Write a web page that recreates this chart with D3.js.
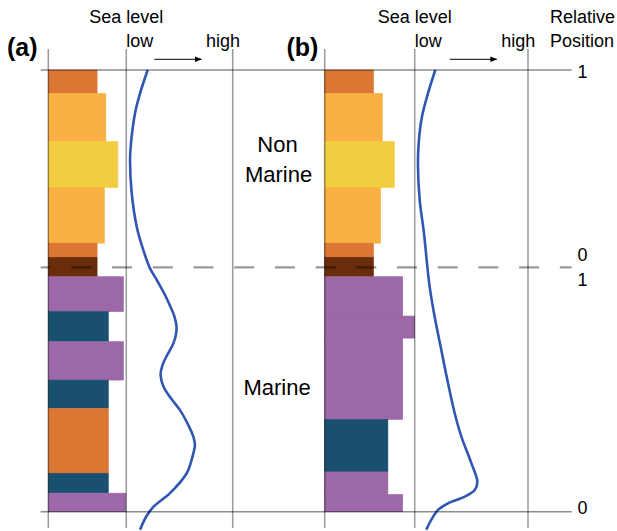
<!DOCTYPE html>
<html>
<head>
<meta charset="utf-8">
<script src="https://cdn.jsdelivr.net/npm/d3@7"></script>
<style>
  body { margin: 0; background: #fff; }
  text { font-family: "Liberation Sans", Arial, sans-serif; fill: #000; }
</style>
</head>
<body>
<div id="chart"></div>
<script>
const width = 617, height = 531;

// depth through the section, 0 = top, 100 = base ; boundary non marine / marine
const boundary = 44.7;

// layers: [top depth, bottom depth, grain size, facies]
const nonMarine = [
  [0, 5.3, 6.1, 'orange'],
  [5.3, 16.2, 7.2, 'light'],
  [16.2, 26.6, 8.7, 'yellow'],
  [26.6, 39.2, 7.0, 'light'],
  [39.2, 42.4, 6.1, 'orange'],
  [42.4, 46.8, 6.1, 'brown']
];
const marineA = [
  [46.8, 54.7, 9.4, 'purple'],
  [54.7, 61.5, 7.5, 'teal'],
  [61.5, 70.2, 9.4, 'purple'],
  [70.2, 76.6, 7.5, 'teal'],
  [76.6, 91.3, 7.5, 'orange'],
  [91.3, 95.8, 7.5, 'teal'],
  [95.8, 100, 9.7, 'purple']
];
const marineB = [
  [46.8, 55.7, 9.75, 'purple'],
  [55.7, 60.7, 11.25, 'purple'],
  [60.7, 79.1, 9.75, 'purple'],
  [79.1, 91.0, 7.9, 'teal'],
  [91.0, 96.1, 7.9, 'purple'],
  [96.1, 100, 9.75, 'purple']
];

// sea level curves: [depth, level 0 = low .. 1 = high]
const seaLevelA = [
  [0, 0.201], [5.3, 0.129], [9.8, 0.082], [16.6, 0.044], [20.4, 0.035],
  [27.9, 0.051], [35.5, 0.098], [40.8, 0.160], [44.9, 0.223], [47.5, 0.286],
  [51.0, 0.365], [53.6, 0.415], [55.8, 0.452], [58.1, 0.472], [60.0, 0.466],
  [61.9, 0.442], [64.5, 0.385], [66.8, 0.340], [69.0, 0.322], [71.7, 0.350],
  [74.5, 0.425], [77.0, 0.505], [80.0, 0.575], [83.0, 0.630], [84.9, 0.645],
  [86.8, 0.630], [89.0, 0.605], [91.3, 0.568], [95.8, 0.411], [98.9, 0.254],
  [101.2, 0.185], [104.1, 0.129]
];
const seaLevelB = [
  [0, 0.182], [5.3, 0.117], [10.6, 0.064], [16.6, 0.035], [21.9, 0.029],
  [29.4, 0.044], [37.0, 0.082], [44.9, 0.113], [49.1, 0.132], [56.0, 0.177],
  [63.4, 0.235], [70.9, 0.294], [77.7, 0.353], [83.0, 0.412], [89.0, 0.500],
  [93.2, 0.553], [95.1, 0.530], [96.6, 0.441], [98.1, 0.294], [99.6, 0.206],
  [101.8, 0.147], [104.1, 0.102]
];

const relTicks = [[0, '1'], [boundary, '0'], [boundary, '1'], [100, '0']];
const relTickShift = [1.7, -12.5, 12.5, -3.4];

const facies = {
  orange: '#dc7633', light: '#f8b142', yellow: '#f2cd3f',
  brown: '#6a2c0b', purple: '#9c68a8', teal: '#1a506f'
};

const panels = [
  { label: '(a)', labelX: 7, left: 48.3, low: 126.3, high: 232.7, layers: nonMarine.concat(marineA), curve: seaLevelA, arrow: [28, 75] },
  { label: '(b)', labelX: 286.5, left: 324.7, low: 414.7, high: 528, layers: nonMarine.concat(marineB), curve: seaLevelB, arrow: [35, 82] }
];

const y = d3.scaleLinear().domain([0, 100]).range([70, 511.7]);
const grain = d3.scaleLinear().domain([0, 10]).range([0, 80]);

const svg = d3.select('#chart').append('svg')
  .attr('width', width).attr('height', height);

svg.append('defs').append('marker')
  .attr('id', 'arrowhead')
  .attr('viewBox', '0 -5 10 10')
  .attr('refX', 9).attr('refY', 0)
  .attr('orient', 'auto')
  .attr('markerUnits', 'userSpaceOnUse')
  .attr('markerWidth', 9).attr('markerHeight', 7)
  .append('path')
  .attr('d', 'M 0,-4 L 10,0 L 0,4 Z')
  .attr('fill', '#000');

const lineColor = '#000', lineOpacity = 0.4;

panels.forEach(p => {
  const g = svg.append('g');
  const sl = d3.scaleLinear().domain([0, 1]).range([p.low, p.high]);

  g.selectAll('rect')
    .data(p.layers)
    .enter()
    .append('rect')
    .attr('x', p.left)
    .attr('y', d => y(d[0]))
    .attr('width', d => grain(d[2]))
    .attr('height', d => y(d[1]) - y(d[0]))
    .attr('fill', d => facies[d[3]])
    .attr('stroke', d => facies[d[3]])
    .attr('stroke-width', 0.6);

  // vertical guide lines
  g.selectAll('.vline')
    .data([p.left, p.low, p.high])
    .enter()
    .append('line')
    .attr('class', 'vline')
    .attr('x1', d => d).attr('x2', d => d)
    .attr('y1', 49).attr('y2', 528)
    .attr('stroke', lineColor).attr('stroke-opacity', lineOpacity)
    .attr('stroke-width', 1.5);

  const line = d3.line()
    .curve(d3.curveCatmullRom.alpha(0.5))
    .x(d => sl(d[1]))
    .y(d => y(d[0]));

  g.append('path')
    .attr('d', line(p.curve))
    .attr('fill', 'none')
    .attr('stroke', '#2f56b0')
    .attr('stroke-width', 2.6);

  g.append('text').attr('x', p.low).attr('y', 22.7)
    .attr('text-anchor', 'middle').style('font-size', '18px').text('Sea level');
  g.append('text').attr('x', p.low).attr('y', 46.7)
    .style('font-size', '18px').text('low');
  g.append('text').attr('x', p.high + 7.3).attr('y', 46.7)
    .attr('text-anchor', 'end').style('font-size', '18px').text('high');
  g.append('text').attr('x', p.labelX).attr('y', 56)
    .style('font-size', '25px').style('font-weight', 'bold').text(p.label);

  g.append('line')
    .attr('x1', p.low + p.arrow[0]).attr('x2', p.low + p.arrow[1])
    .attr('y1', 59.3).attr('y2', 59.3)
    .attr('stroke', '#000').attr('stroke-width', 1)
    .attr('marker-end', 'url(#arrowhead)');
});

// horizontal lines: top, boundary (dashed), base
[0, 100].forEach(d => {
  svg.append('line')
    .attr('x1', 40.7).attr('x2', 571.7)
    .attr('y1', y(d)).attr('y2', y(d))
    .attr('stroke', lineColor).attr('stroke-opacity', 0.45)
    .attr('stroke-width', 1.5);
});
svg.append('line')
  .attr('x1', 40.7).attr('x2', 571.7)
  .attr('y1', y(boundary)).attr('y2', y(boundary))
  .attr('stroke', lineColor).attr('stroke-opacity', 0.4)
  .attr('stroke-width', 2.2)
  .attr('stroke-dasharray', '20 20.7')
  .attr('stroke-dashoffset', 10);

svg.selectAll('.rel')
  .data(relTicks)
  .enter()
  .append('text')
  .attr('class', 'rel')
  .attr('x', 577.5)
  .attr('y', (d, i) => y(d[0]) + relTickShift[i])
  .attr('dominant-baseline', 'central')
  .style('font-size', '18px')
  .text(d => d[1]);

svg.append('text').attr('x', 550).attr('y', 22.7).style('font-size', '18px').text('Relative');
svg.append('text').attr('x', 550).attr('y', 46.7).style('font-size', '18px').text('Position');

const zone = svg.append('g').style('font-size', '22px').attr('text-anchor', 'middle');
zone.append('text').attr('x', 277.5).attr('y', 151.7).text('Non');
zone.append('text').attr('x', 278.5).attr('y', 181.7).text('Marine');
zone.append('text').attr('x', 277).attr('y', 395).text('Marine');
</script>
</body>
</html>
